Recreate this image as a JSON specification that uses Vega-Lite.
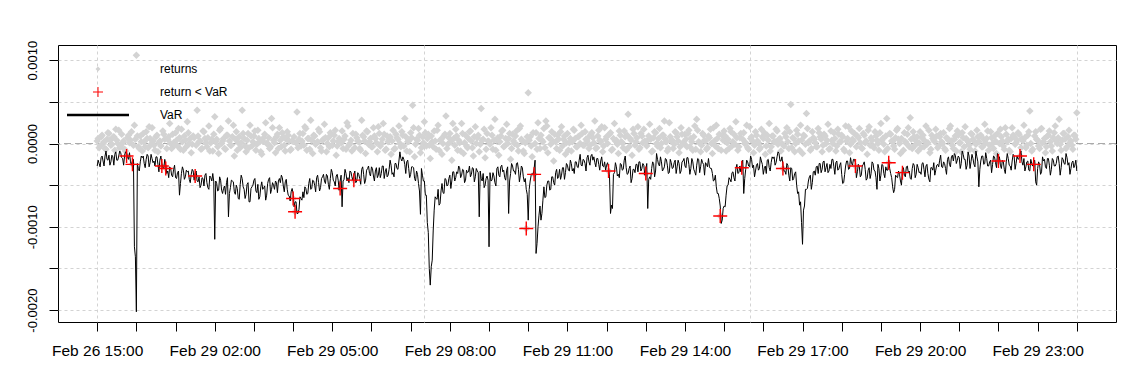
{
"$schema": "https://vega.github.io/schema/vega-lite/v6.json",
"width": 1058, "height": 277,
"autosize": "none",
"padding": {"left": 58, "top": 45, "right": 17, "bottom": 66},
"background": "white",
"config": {
  "view": {"stroke": "#000000", "strokeWidth": 1},
  "font": "Liberation Sans",
  "axis": {"domain": false, "grid": true, "gridColor": "#d3d3d3", "gridDash": [3,3], "gridWidth": 1, "tickColor": "#000000", "tickWidth": 1, "tickSize": 9, "labelColor": "#000000", "labelOverlap": false, "labelFlush": false},
  "legend": {"symbolSize": 100, "symbolStrokeWidth": 0, "symbolOpacity": 1}
},
"data": {"values": [
{"m":0,"r":0.00003,"v":-0.00027},{"m":1.5,"r":0.00006,"v":-0.00020},
{"m":3,"r":-0.00005,"v":-0.00024},{"m":4.5,"r":-0.00003,"v":-0.00028},
{"m":6,"r":0.00008,"v":-0.00017},{"m":7.5,"r":0.00010,"v":-0.00015},
{"m":9,"r":0.00000,"v":-0.00021},{"m":10.5,"r":0.00002,"v":-0.00027},
{"m":12,"r":-0.00006,"v":-0.00015},{"m":13.5,"r":-0.00007,"v":-0.00009},
{"m":15,"r":0.00005,"v":-0.00019},{"m":16.5,"r":0.00013,"v":-0.00020},
{"m":18,"r":0.00012,"v":-0.00014},{"m":19.5,"r":0.00004,"v":-0.00026},
{"m":21,"r":-0.00002,"v":-0.00022},{"m":22.5,"r":-0.00001,"v":-0.00014},
{"m":24,"r":0.00007,"v":-0.00016},{"m":25.5,"r":0.00008,"v":-0.00026},
{"m":27,"r":-0.00008,"v":-0.00013},{"m":28.5,"r":0.00017,"v":-0.00010},
{"m":30,"r":0.00004,"v":-0.00020},{"m":31.5,"r":0.00000,"v":-0.00020},
{"m":33,"r":0.00016,"v":-0.00015},{"m":34.5,"r":-0.00005,"v":-0.00009},
{"m":36,"r":-0.00003,"v":-0.00011},{"m":37.5,"r":0.00011,"v":-0.00017},
{"m":39,"r":0.00001,"v":-0.00018},{"m":40.5,"r":0.00003,"v":-0.00026},
{"m":42,"r":-0.00007,"v":-0.00014},{"m":43.5,"r":-0.00009,"v":-0.00010},
{"m":45,"r":-0.00015,"v":-0.00011},{"m":46.5,"r":0.00007,"v":-0.00016},
{"m":48,"r":0.00010,"v":-0.00019},{"m":49.5,"r":0.00001,"v":-0.00011},
{"m":51,"r":0.00004,"v":-0.00022},{"m":52.5,"r":0.00014,"v":-0.00026},
{"m":54,"r":-0.00025,"v":-0.00021},{"m":55.5,"r":-0.00002,"v":-0.00019},
{"m":57,"r":0.00022,"v":-0.00124},{"m":58.5,"r":0.00005,"v":-0.00136},
{"m":60,"r":0.00106,"v":-0.00202},{"m":61.5,"r":0.00009,"v":-0.00024},
{"m":63,"r":-0.00004,"v":-0.00030},{"m":64.5,"r":-0.00006,"v":-0.00033},
{"m":66,"r":0.00009,"v":-0.00022},{"m":67.5,"r":0.00002,"v":-0.00015},
{"m":69,"r":-0.00009,"v":-0.00017},{"m":70.5,"r":0.00012,"v":-0.00015},
{"m":72,"r":0.00002,"v":-0.00024},{"m":73.5,"r":-0.00004,"v":-0.00029},
{"m":75,"r":0.00014,"v":-0.00019},{"m":76.5,"r":0.00006,"v":-0.00013},
{"m":78,"r":-0.00005,"v":-0.00015},{"m":79.5,"r":0.00020,"v":-0.00028},
{"m":81,"r":0.00006,"v":-0.00023},{"m":82.5,"r":-0.00001,"v":-0.00013},
{"m":84,"r":0.00019,"v":-0.00018},{"m":85.5,"r":0.00003,"v":-0.00023},
{"m":87,"r":-0.00002,"v":-0.00021},{"m":88.5,"r":-0.00008,"v":-0.00027},
{"m":90,"r":0.00008,"v":-0.00016},{"m":91.5,"r":0.00010,"v":-0.00016},
{"m":93,"r":-0.00010,"v":-0.00025},{"m":94.5,"r":0.00001,"v":-0.00034},
{"m":96,"r":0.00003,"v":-0.00020},{"m":97.5,"r":-0.00003,"v":-0.00015},
{"m":99,"r":-0.00027,"v":-0.00024},{"m":100.5,"r":0.00015,"v":-0.00029},
{"m":102,"r":0.00011,"v":-0.00030},{"m":103.5,"r":0.00005,"v":-0.00019},
{"m":105,"r":-0.00030,"v":-0.00026},{"m":106.5,"r":-0.00006,"v":-0.00036},
{"m":108,"r":0.00005,"v":-0.00033},{"m":109.5,"r":0.00008,"v":-0.00041},
{"m":111,"r":0.00024,"v":-0.00028},{"m":112.5,"r":0.00000,"v":-0.00030},
{"m":114,"r":-0.00006,"v":-0.00038},{"m":115.5,"r":0.00011,"v":-0.00040},
{"m":117,"r":0.00001,"v":-0.00031},{"m":118.5,"r":-0.00002,"v":-0.00026},
{"m":120,"r":0.00013,"v":-0.00041},{"m":121.5,"r":0.00004,"v":-0.00042},
{"m":123,"r":-0.00003,"v":-0.00035},{"m":124.5,"r":0.00018,"v":-0.00033},
{"m":126,"r":0.00007,"v":-0.00062},{"m":127.5,"r":-0.00007,"v":-0.00048},
{"m":129,"r":0.00017,"v":-0.00036},{"m":130.5,"r":0.00002,"v":-0.00028},
{"m":132,"r":-0.00008,"v":-0.00032},{"m":133.5,"r":0.00009,"v":-0.00043},
{"m":135,"r":0.00004,"v":-0.00040},{"m":136.5,"r":-0.00004,"v":-0.00032},
{"m":138,"r":0.00026,"v":-0.00034},{"m":139.5,"r":0.00013,"v":-0.00033},
{"m":141,"r":0.00000,"v":-0.00043},{"m":142.5,"r":0.00006,"v":-0.00047},
{"m":144,"r":-0.00011,"v":-0.00037},{"m":145.5,"r":-0.00001,"v":-0.00031},
{"m":147,"r":0.00009,"v":-0.00033},{"m":148.5,"r":0.00007,"v":-0.00044},
{"m":150,"r":-0.00039,"v":-0.00036},{"m":151.5,"r":-0.00002,"v":-0.00033},
{"m":153,"r":0.00040,"v":-0.00045},{"m":154.5,"r":0.00009,"v":-0.00046},
{"m":156,"r":0.00002,"v":-0.00040},{"m":157.5,"r":0.00003,"v":-0.00053},
{"m":159,"r":-0.00007,"v":-0.00050},{"m":160.5,"r":-0.00006,"v":-0.00041},
{"m":162,"r":0.00015,"v":-0.00042},{"m":163.5,"r":0.00014,"v":-0.00051},
{"m":165,"r":0.00006,"v":-0.00038},{"m":166.5,"r":0.00001,"v":-0.00036},
{"m":168,"r":-0.00004,"v":-0.00047},{"m":169.5,"r":0.00007,"v":-0.00053},
{"m":171,"r":0.00021,"v":-0.00055},{"m":172.5,"r":-0.00009,"v":-0.00039},
{"m":174,"r":0.00001,"v":-0.00041},{"m":175.5,"r":0.00005,"v":-0.00045},
{"m":177,"r":-0.00009,"v":-0.00036},{"m":178.5,"r":0.00011,"v":-0.00046},
{"m":180,"r":0.00032,"v":-0.00115},{"m":181.5,"r":0.00002,"v":-0.00045},
{"m":183,"r":0.00005,"v":-0.00048},{"m":184.5,"r":-0.00004,"v":-0.00057},
{"m":186,"r":-0.00012,"v":-0.00056},{"m":187.5,"r":0.00016,"v":-0.00040},
{"m":189,"r":0.00018,"v":-0.00044},{"m":190.5,"r":0.00000,"v":-0.00056},
{"m":192,"r":0.00003,"v":-0.00060},{"m":193.5,"r":0.00006,"v":-0.00054},
{"m":195,"r":-0.00006,"v":-0.00051},{"m":196.5,"r":-0.00007,"v":-0.00061},
{"m":198,"r":0.00010,"v":-0.00047},{"m":199.5,"r":0.00010,"v":-0.00041},
{"m":201,"r":0.00027,"v":-0.00088},{"m":202.5,"r":0.00003,"v":-0.00060},
{"m":204,"r":-0.00002,"v":-0.00053},{"m":205.5,"r":-0.00002,"v":-0.00044},
{"m":207,"r":0.00008,"v":-0.00045},{"m":208.5,"r":0.00022,"v":-0.00046},
{"m":210,"r":-0.00015,"v":-0.00058},{"m":211.5,"r":0.00005,"v":-0.00061},
{"m":213,"r":0.00014,"v":-0.00050},{"m":214.5,"r":-0.00008,"v":-0.00054},
{"m":216,"r":0.00001,"v":-0.00066},{"m":217.5,"r":0.00008,"v":-0.00067},
{"m":219,"r":-0.00005,"v":-0.00049},{"m":220.5,"r":0.00001,"v":-0.00038},
{"m":222,"r":0.00040,"v":-0.00042},{"m":223.5,"r":0.00012,"v":-0.00052},
{"m":225,"r":0.00006,"v":-0.00055},{"m":226.5,"r":-0.00003,"v":-0.00066},
{"m":228,"r":-0.00010,"v":-0.00061},{"m":229.5,"r":0.00004,"v":-0.00049},
{"m":231,"r":0.00012,"v":-0.00047},{"m":232.5,"r":-0.00005,"v":-0.00070},
{"m":234,"r":0.00022,"v":-0.00070},{"m":235.5,"r":0.00009,"v":-0.00054},
{"m":237,"r":-0.00003,"v":-0.00052},{"m":238.5,"r":0.00002,"v":-0.00050},
{"m":240,"r":0.00009,"v":-0.00044},{"m":241.5,"r":0.00015,"v":-0.00042},
{"m":243,"r":-0.00008,"v":-0.00057},{"m":244.5,"r":-0.00001,"v":-0.00059},
{"m":246,"r":0.00016,"v":-0.00049},{"m":247.5,"r":0.00006,"v":-0.00067},
{"m":249,"r":0.00002,"v":-0.00064},{"m":250.5,"r":-0.00010,"v":-0.00052},
{"m":252,"r":-0.00013,"v":-0.00046},{"m":253.5,"r":0.00003,"v":-0.00055},
{"m":255,"r":0.00007,"v":-0.00053},{"m":256.5,"r":0.00011,"v":-0.00051},
{"m":258,"r":0.00025,"v":-0.00068},{"m":259.5,"r":0.00000,"v":-0.00062},
{"m":261,"r":0.00000,"v":-0.00048},{"m":262.5,"r":0.00007,"v":-0.00043},
{"m":264,"r":-0.00006,"v":-0.00041},{"m":265.5,"r":-0.00004,"v":-0.00060},
{"m":267,"r":0.00030,"v":-0.00055},{"m":268.5,"r":0.00019,"v":-0.00047},
{"m":270,"r":0.00004,"v":-0.00050},{"m":271.5,"r":0.00001,"v":-0.00055},
{"m":273,"r":-0.00011,"v":-0.00045},{"m":274.5,"r":0.00008,"v":-0.00047},
{"m":276,"r":0.00011,"v":-0.00059},{"m":277.5,"r":-0.00006,"v":-0.00045},
{"m":279,"r":0.00019,"v":-0.00042},{"m":280.5,"r":0.00004,"v":-0.00047},
{"m":282,"r":-0.00004,"v":-0.00038},{"m":283.5,"r":0.00013,"v":-0.00041},
{"m":285,"r":0.00008,"v":-0.00051},{"m":286.5,"r":-0.00002,"v":-0.00058},
{"m":288,"r":-0.00009,"v":-0.00046},{"m":289.5,"r":0.00005,"v":-0.00043},
{"m":291,"r":0.00014,"v":-0.00055},{"m":292.5,"r":0.00010,"v":-0.00062},
{"m":294,"r":0.00003,"v":-0.00063},{"m":295.5,"r":-0.00008,"v":-0.00069},
{"m":297,"r":-0.00007,"v":-0.00058},{"m":298.5,"r":0.00003,"v":-0.00054},
{"m":300,"r":-0.00066,"v":-0.00060},{"m":301.5,"r":0.00008,"v":-0.00076},
{"m":303,"r":-0.00082,"v":-0.00070},{"m":304.5,"r":0.00001,"v":-0.00070},
{"m":306,"r":0.00038,"v":-0.00084},{"m":307.5,"r":-0.00005,"v":-0.00084},
{"m":309,"r":0.00005,"v":-0.00079},{"m":310.5,"r":0.00012,"v":-0.00064},
{"m":312,"r":-0.00003,"v":-0.00066},{"m":313.5,"r":0.00003,"v":-0.00068},
{"m":315,"r":0.00012,"v":-0.00058},{"m":316.5,"r":-0.00002,"v":-0.00065},
{"m":318,"r":0.00020,"v":-0.00052},{"m":319.5,"r":0.00018,"v":-0.00054},
{"m":321,"r":-0.00008,"v":-0.00061},{"m":322.5,"r":0.00006,"v":-0.00060},
{"m":324,"r":0.00006,"v":-0.00048},{"m":325.5,"r":-0.00007,"v":-0.00042},
{"m":327,"r":0.00028,"v":-0.00055},{"m":328.5,"r":0.00004,"v":-0.00054},
{"m":330,"r":-0.00012,"v":-0.00044},{"m":331.5,"r":0.00010,"v":-0.00045},
{"m":333,"r":0.00009,"v":-0.00050},{"m":334.5,"r":-0.00001,"v":-0.00058},
{"m":336,"r":0.00001,"v":-0.00041},{"m":337.5,"r":0.00002,"v":-0.00038},
{"m":339,"r":0.00017,"v":-0.00047},{"m":340.5,"r":0.00014,"v":-0.00057},
{"m":342,"r":-0.00005,"v":-0.00053},{"m":343.5,"r":-0.00009,"v":-0.00042},
{"m":345,"r":0.00004,"v":-0.00040},{"m":346.5,"r":0.00005,"v":-0.00037},
{"m":348,"r":0.00023,"v":-0.00045},{"m":349.5,"r":0.00007,"v":-0.00048},
{"m":351,"r":-0.00010,"v":-0.00037},{"m":352.5,"r":0.00000,"v":-0.00039},
{"m":354,"r":0.00007,"v":-0.00049},{"m":355.5,"r":-0.00004,"v":-0.00055},
{"m":357,"r":0.00013,"v":-0.00042},{"m":358.5,"r":0.00011,"v":-0.00031},
{"m":360,"r":-0.00002,"v":-0.00035},{"m":361.5,"r":0.00003,"v":-0.00044},
{"m":363,"r":0.00010,"v":-0.00046},{"m":364.5,"r":0.00016,"v":-0.00051},
{"m":366,"r":-0.00014,"v":-0.00039},{"m":367.5,"r":-0.00003,"v":-0.00037},
{"m":369,"r":0.00002,"v":-0.00044},{"m":370.5,"r":0.00006,"v":-0.00056},
{"m":372,"r":-0.00054,"v":-0.00045},{"m":373.5,"r":0.00001,"v":-0.00038},
{"m":375,"r":0.00015,"v":-0.00076},{"m":376.5,"r":-0.00006,"v":-0.00045},
{"m":378,"r":0.00005,"v":-0.00043},{"m":379.5,"r":0.00009,"v":-0.00031},
{"m":381,"r":-0.00007,"v":-0.00036},{"m":382.5,"r":0.00025,"v":-0.00045},
{"m":384,"r":0.00021,"v":-0.00041},{"m":385.5,"r":-0.00002,"v":-0.00047},
{"m":387,"r":0.00000,"v":-0.00033},{"m":388.5,"r":0.00004,"v":-0.00034},
{"m":390,"r":-0.00009,"v":-0.00040},{"m":391.5,"r":0.00012,"v":-0.00044},
{"m":393,"r":-0.00044,"v":-0.00038},{"m":394.5,"r":-0.00005,"v":-0.00033},
{"m":396,"r":0.00011,"v":-0.00047},{"m":397.5,"r":0.00007,"v":-0.00045},
{"m":399,"r":0.00003,"v":-0.00035},{"m":400.5,"r":0.00002,"v":-0.00037},
{"m":402,"r":-0.00006,"v":-0.00042},{"m":403.5,"r":-0.00008,"v":-0.00049},
{"m":405,"r":0.00028,"v":-0.00031},{"m":406.5,"r":0.00010,"v":-0.00028},
{"m":408,"r":0.00008,"v":-0.00037},{"m":409.5,"r":0.00003,"v":-0.00048},
{"m":411,"r":-0.00012,"v":-0.00044},{"m":412.5,"r":0.00015,"v":-0.00032},
{"m":414,"r":0.00014,"v":-0.00030},{"m":415.5,"r":-0.00001,"v":-0.00027},
{"m":417,"r":0.00002,"v":-0.00036},{"m":418.5,"r":0.00006,"v":-0.00039},
{"m":420,"r":-0.00004,"v":-0.00028},{"m":421.5,"r":-0.00004,"v":-0.00030},
{"m":423,"r":0.00019,"v":-0.00039},{"m":424.5,"r":0.00009,"v":-0.00045},
{"m":426,"r":0.00006,"v":-0.00033},{"m":427.5,"r":0.00001,"v":-0.00029},
{"m":429,"r":-0.00010,"v":-0.00041},{"m":430.5,"r":0.00020,"v":-0.00038},
{"m":432,"r":0.00012,"v":-0.00029},{"m":433.5,"r":-0.00003,"v":-0.00041},
{"m":435,"r":0.00000,"v":-0.00036},{"m":436.5,"r":0.00005,"v":-0.00027},
{"m":438,"r":0.00024,"v":-0.00027},{"m":439.5,"r":0.00011,"v":-0.00042},
{"m":441,"r":-0.00008,"v":-0.00034},{"m":442.5,"r":-0.00007,"v":-0.00030},
{"m":444,"r":0.00009,"v":-0.00040},{"m":445.5,"r":0.00002,"v":-0.00038},
{"m":447,"r":0.00004,"v":-0.00031},{"m":448.5,"r":0.00008,"v":-0.00020},
{"m":450,"r":-0.00013,"v":-0.00026},{"m":451.5,"r":0.00003,"v":-0.00037},
{"m":453,"r":0.00016,"v":-0.00035},{"m":454.5,"r":-0.00007,"v":-0.00040},
{"m":456,"r":-0.00006,"v":-0.00024},{"m":457.5,"r":0.00011,"v":-0.00024},
{"m":459,"r":0.00007,"v":-0.00030},{"m":460.5,"r":0.00005,"v":-0.00031},
{"m":462,"r":0.00021,"v":-0.00021},{"m":463.5,"r":0.00000,"v":-0.00010},
{"m":465,"r":-0.00004,"v":-0.00018},{"m":466.5,"r":0.00014,"v":-0.00021},
{"m":468,"r":0.00010,"v":-0.00016},{"m":469.5,"r":-0.00003,"v":-0.00019},
{"m":471,"r":0.00030,"v":-0.00025},{"m":472.5,"r":0.00008,"v":-0.00036},
{"m":474,"r":-0.00009,"v":-0.00022},{"m":475.5,"r":0.00002,"v":-0.00020},
{"m":477,"r":0.00003,"v":-0.00030},{"m":478.5,"r":-0.00010,"v":-0.00041},
{"m":480,"r":0.00013,"v":-0.00037},{"m":481.5,"r":0.00007,"v":-0.00028},
{"m":483,"r":0.00046,"v":-0.00028},{"m":484.5,"r":0.00019,"v":-0.00029},
{"m":486,"r":-0.00016,"v":-0.00042},{"m":487.5,"r":-0.00001,"v":-0.00045},
{"m":489,"r":0.00005,"v":-0.00033},{"m":490.5,"r":0.00004,"v":-0.00037},
{"m":492,"r":0.00018,"v":-0.00048},{"m":493.5,"r":0.00010,"v":-0.00057},
{"m":495,"r":-0.00011,"v":-0.00085},{"m":496.5,"r":-0.00005,"v":-0.00030},
{"m":498,"r":0.00008,"v":-0.00038},{"m":499.5,"r":0.00001,"v":-0.00045},
{"m":501,"r":0.00026,"v":-0.00045},{"m":502.5,"r":0.00013,"v":-0.00062},
{"m":504,"r":-0.00003,"v":-0.00062},{"m":505.5,"r":0.00006,"v":-0.00095},
{"m":507,"r":0.00011,"v":-0.00107},{"m":508.5,"r":-0.00002,"v":-0.00150},
{"m":510,"r":-0.00018,"v":-0.00170},{"m":511.5,"r":0.00009,"v":-0.00148},
{"m":513,"r":0.00002,"v":-0.00140},{"m":514.5,"r":-0.00004,"v":-0.00105},
{"m":516,"r":0.00015,"v":-0.00080},{"m":517.5,"r":0.00003,"v":-0.00064},
{"m":519,"r":-0.00007,"v":-0.00066},{"m":520.5,"r":0.00016,"v":-0.00067},
{"m":522,"r":0.00022,"v":-0.00055},{"m":523.5,"r":-0.00008,"v":-0.00074},
{"m":525,"r":0.00004,"v":-0.00072},{"m":526.5,"r":0.00005,"v":-0.00057},
{"m":528,"r":-0.00013,"v":-0.00048},{"m":529.5,"r":0.00000,"v":-0.00059},
{"m":531,"r":0.00009,"v":-0.00060},{"m":532.5,"r":0.00011,"v":-0.00042},
{"m":534,"r":0.00033,"v":-0.00043},{"m":535.5,"r":-0.00006,"v":-0.00051},
{"m":537,"r":-0.00001,"v":-0.00050},{"m":538.5,"r":0.00007,"v":-0.00042},
{"m":540,"r":0.00012,"v":-0.00038},{"m":541.5,"r":0.00002,"v":-0.00054},
{"m":543,"r":-0.00020,"v":-0.00045},{"m":544.5,"r":0.00024,"v":-0.00034},
{"m":546,"r":0.00006,"v":-0.00034},{"m":547.5,"r":-0.00002,"v":-0.00045},
{"m":549,"r":0.00017,"v":-0.00041},{"m":550.5,"r":0.00009,"v":-0.00034},
{"m":552,"r":-0.00008,"v":-0.00036},{"m":553.5,"r":0.00004,"v":-0.00027},
{"m":555,"r":0.00001,"v":-0.00029},{"m":556.5,"r":-0.00009,"v":-0.00041},
{"m":558,"r":0.00024,"v":-0.00038},{"m":559.5,"r":0.00012,"v":-0.00031},
{"m":561,"r":-0.00012,"v":-0.00032},{"m":562.5,"r":0.00001,"v":-0.00047},
{"m":564,"r":0.00010,"v":-0.00044},{"m":565.5,"r":-0.00003,"v":-0.00032},
{"m":567,"r":-0.00005,"v":-0.00035},{"m":568.5,"r":0.00006,"v":-0.00034},
{"m":570,"r":0.00014,"v":-0.00027},{"m":571.5,"r":0.00015,"v":-0.00040},
{"m":573,"r":0.00003,"v":-0.00037},{"m":574.5,"r":-0.00005,"v":-0.00029},
{"m":576,"r":-0.00015,"v":-0.00030},{"m":577.5,"r":0.00008,"v":-0.00046},
{"m":579,"r":0.00020,"v":-0.00040},{"m":580.5,"r":0.00000,"v":-0.00030},
{"m":582,"r":0.00007,"v":-0.00033},{"m":583.5,"r":0.00010,"v":-0.00035},
{"m":585,"r":-0.00010,"v":-0.00088},{"m":586.5,"r":-0.00001,"v":-0.00033},
{"m":588,"r":0.00042,"v":-0.00042},{"m":589.5,"r":0.00004,"v":-0.00045},
{"m":591,"r":0.00005,"v":-0.00036},{"m":592.5,"r":0.00017,"v":-0.00053},
{"m":594,"r":-0.00017,"v":-0.00050},{"m":595.5,"r":-0.00007,"v":-0.00042},
{"m":597,"r":0.00012,"v":-0.00039},{"m":598.5,"r":0.00003,"v":-0.00044},
{"m":600,"r":0.00002,"v":-0.00124},{"m":601.5,"r":-0.00001,"v":-0.00035},
{"m":603,"r":0.00019,"v":-0.00045},{"m":604.5,"r":0.00010,"v":-0.00044},
{"m":606,"r":-0.00007,"v":-0.00035},{"m":607.5,"r":0.00004,"v":-0.00039},
{"m":609,"r":0.00029,"v":-0.00047},{"m":610.5,"r":-0.00008,"v":-0.00051},
{"m":612,"r":0.00004,"v":-0.00030},{"m":613.5,"r":0.00007,"v":-0.00028},
{"m":615,"r":-0.00014,"v":-0.00038},{"m":616.5,"r":0.00002,"v":-0.00040},
{"m":618,"r":0.00009,"v":-0.00028},{"m":619.5,"r":0.00015,"v":-0.00026},
{"m":621,"r":0.00016,"v":-0.00034},{"m":622.5,"r":-0.00004,"v":-0.00032},
{"m":624,"r":-0.00003,"v":-0.00041},{"m":625.5,"r":0.00006,"v":-0.00044},
{"m":627,"r":0.00023,"v":-0.00032},{"m":628.5,"r":0.00000,"v":-0.00028},
{"m":630,"r":0.00006,"v":-0.00084},{"m":631.5,"r":0.00012,"v":-0.00045},
{"m":633,"r":-0.00019,"v":-0.00036},{"m":634.5,"r":-0.00006,"v":-0.00024},
{"m":636,"r":0.00011,"v":-0.00027},{"m":637.5,"r":0.00003,"v":-0.00033},
{"m":639,"r":0.00000,"v":-0.00033},{"m":640.5,"r":0.00009,"v":-0.00037},
{"m":642,"r":0.00015,"v":-0.00024},{"m":643.5,"r":-0.00002,"v":-0.00023},
{"m":645,"r":-0.00009,"v":-0.00031},{"m":646.5,"r":0.00018,"v":-0.00046},
{"m":648,"r":0.00021,"v":-0.00038},{"m":649.5,"r":0.00005,"v":-0.00027},
{"m":651,"r":0.00003,"v":-0.00029},{"m":652.5,"r":-0.00009,"v":-0.00040},
{"m":654,"r":-0.00012,"v":-0.00046},{"m":655.5,"r":0.00001,"v":-0.00042},
{"m":657,"r":-0.00102,"v":-0.00055},{"m":658.5,"r":0.00008,"v":-0.00061},
{"m":660,"r":0.00061,"v":-0.00092},{"m":661.5,"r":0.00004,"v":-0.00055},
{"m":663,"r":0.00008,"v":-0.00045},{"m":664.5,"r":-0.00003,"v":-0.00038},
{"m":666,"r":-0.00016,"v":-0.00036},{"m":667.5,"r":0.00013,"v":-0.00038},
{"m":669,"r":-0.00037,"v":-0.00030},{"m":670.5,"r":0.00000,"v":-0.00020},
{"m":672,"r":0.00013,"v":-0.00132},{"m":673.5,"r":-0.00007,"v":-0.00120},
{"m":675,"r":0.00025,"v":-0.00100},{"m":676.5,"r":0.00006,"v":-0.00086},
{"m":678,"r":-0.00006,"v":-0.00075},{"m":679.5,"r":0.00010,"v":-0.00092},
{"m":681,"r":0.00004,"v":-0.00084},{"m":682.5,"r":0.00002,"v":-0.00068},
{"m":684,"r":0.00018,"v":-0.00052},{"m":685.5,"r":-0.00005,"v":-0.00065},
{"m":687,"r":0.00027,"v":-0.00064},{"m":688.5,"r":0.00021,"v":-0.00050},
{"m":690,"r":-0.00011,"v":-0.00045},{"m":691.5,"r":0.00007,"v":-0.00045},
{"m":693,"r":0.00007,"v":-0.00056},{"m":694.5,"r":-0.00001,"v":-0.00055},
{"m":696,"r":0.00014,"v":-0.00040},{"m":697.5,"r":0.00003,"v":-0.00040},
{"m":699,"r":-0.00021,"v":-0.00047},{"m":700.5,"r":0.00011,"v":-0.00050},
{"m":702,"r":0.00002,"v":-0.00035},{"m":703.5,"r":-0.00006,"v":-0.00031},
{"m":705,"r":0.00010,"v":-0.00042},{"m":706.5,"r":0.00005,"v":-0.00040},
{"m":708,"r":-0.00008,"v":-0.00031},{"m":709.5,"r":0.00014,"v":-0.00043},
{"m":711,"r":0.00020,"v":-0.00038},{"m":712.5,"r":-0.00003,"v":-0.00029},
{"m":714,"r":0.00005,"v":-0.00029},{"m":715.5,"r":0.00009,"v":-0.00043},
{"m":717,"r":-0.00013,"v":-0.00035},{"m":718.5,"r":0.00001,"v":-0.00024},
{"m":720,"r":0.00012,"v":-0.00026},{"m":721.5,"r":-0.00008,"v":-0.00032},
{"m":723,"r":0.00001,"v":-0.00033},{"m":724.5,"r":0.00006,"v":-0.00020},
{"m":726,"r":-0.00009,"v":-0.00024},{"m":727.5,"r":0.00002,"v":-0.00033},
{"m":729,"r":0.00017,"v":-0.00030},{"m":730.5,"r":0.00016,"v":-0.00036},
{"m":732,"r":0.00006,"v":-0.00022},{"m":733.5,"r":-0.00004,"v":-0.00022},
{"m":735,"r":-0.00004,"v":-0.00028},{"m":736.5,"r":0.00008,"v":-0.00029},
{"m":738,"r":0.00009,"v":-0.00020},{"m":739.5,"r":0.00000,"v":-0.00013},
{"m":741,"r":0.00022,"v":-0.00026},{"m":742.5,"r":0.00012,"v":-0.00027},
{"m":744,"r":-0.00002,"v":-0.00019},{"m":745.5,"r":-0.00002,"v":-0.00020},
{"m":747,"r":0.00014,"v":-0.00024},{"m":748.5,"r":0.00005,"v":-0.00033},
{"m":750,"r":0.00003,"v":-0.00017},{"m":751.5,"r":0.00007,"v":-0.00014},
{"m":753,"r":-0.00006,"v":-0.00022},{"m":754.5,"r":-0.00002,"v":-0.00026},
{"m":756,"r":0.00011,"v":-0.00015},{"m":757.5,"r":0.00013,"v":-0.00013},
{"m":759,"r":0.00007,"v":-0.00020},{"m":760.5,"r":0.00001,"v":-0.00016},
{"m":762,"r":0.00027,"v":-0.00023},{"m":763.5,"r":-0.00006,"v":-0.00028},
{"m":765,"r":-0.00005,"v":-0.00018},{"m":766.5,"r":0.00009,"v":-0.00018},
{"m":768,"r":0.00016,"v":-0.00025},{"m":769.5,"r":0.00004,"v":-0.00032},
{"m":771,"r":0.00002,"v":-0.00021},{"m":772.5,"r":0.00020,"v":-0.00016},
{"m":774,"r":-0.00010,"v":-0.00027},{"m":775.5,"r":-0.00003,"v":-0.00028},
{"m":777,"r":0.00019,"v":-0.00022},{"m":778.5,"r":0.00005,"v":-0.00032},
{"m":780,"r":0.00008,"v":-0.00026},{"m":781.5,"r":0.00000,"v":-0.00023},
{"m":783,"r":-0.00033,"v":-0.00029},{"m":784.5,"r":0.00011,"v":-0.00040},
{"m":786,"r":0.00013,"v":-0.00084},{"m":787.5,"r":-0.00008,"v":-0.00074},
{"m":789,"r":-0.00007,"v":-0.00078},{"m":790.5,"r":0.00006,"v":-0.00037},
{"m":792,"r":0.00024,"v":-0.00035},{"m":793.5,"r":0.00003,"v":-0.00023},
{"m":795,"r":0.00004,"v":-0.00028},{"m":796.5,"r":-0.00001,"v":-0.00039},
{"m":798,"r":-0.00012,"v":-0.00037},{"m":799.5,"r":0.00015,"v":-0.00041},
{"m":801,"r":0.00010,"v":-0.00024},{"m":802.5,"r":0.00002,"v":-0.00025},
{"m":804,"r":0.00001,"v":-0.00032},{"m":805.5,"r":-0.00005,"v":-0.00031},
{"m":807,"r":0.00015,"v":-0.00020},{"m":808.5,"r":0.00008,"v":-0.00015},
{"m":810,"r":-0.00008,"v":-0.00029},{"m":811.5,"r":0.00010,"v":-0.00037},
{"m":813,"r":0.00035,"v":-0.00036},{"m":814.5,"r":-0.00004,"v":-0.00030},
{"m":816,"r":0.00006,"v":-0.00027},{"m":817.5,"r":0.00004,"v":-0.00047},
{"m":819,"r":-0.00014,"v":-0.00042},{"m":820.5,"r":0.00017,"v":-0.00031},
{"m":822,"r":0.00012,"v":-0.00031},{"m":823.5,"r":-0.00002,"v":-0.00035},
{"m":825,"r":0.00002,"v":-0.00025},{"m":826.5,"r":0.00007,"v":-0.00025},
{"m":828,"r":0.00020,"v":-0.00034},{"m":829.5,"r":-0.00007,"v":-0.00022},
{"m":831,"r":-0.00005,"v":-0.00022},{"m":832.5,"r":0.00012,"v":-0.00033},
{"m":834,"r":0.00009,"v":-0.00030},{"m":835.5,"r":0.00001,"v":-0.00024},
{"m":837,"r":0.00017,"v":-0.00026},{"m":838.5,"r":0.00003,"v":-0.00038},
{"m":840,"r":-0.00036,"v":-0.00032},{"m":841.5,"r":-0.00003,"v":-0.00024},
{"m":843,"r":0.00004,"v":-0.00078},{"m":844.5,"r":0.00009,"v":-0.00043},
{"m":846,"r":0.00023,"v":-0.00040},{"m":847.5,"r":0.00005,"v":-0.00043},
{"m":849,"r":-0.00010,"v":-0.00030},{"m":850.5,"r":-0.00009,"v":-0.00022},
{"m":852,"r":0.00007,"v":-0.00024},{"m":853.5,"r":0.00014,"v":-0.00040},
{"m":855,"r":0.00013,"v":-0.00033},{"m":856.5,"r":0.00000,"v":-0.00012},
{"m":858,"r":-0.00003,"v":-0.00019},{"m":859.5,"r":0.00006,"v":-0.00025},
{"m":861,"r":0.00018,"v":-0.00027},{"m":862.5,"r":-0.00005,"v":-0.00016},
{"m":864,"r":0.00000,"v":-0.00022},{"m":865.5,"r":0.00010,"v":-0.00033},
{"m":867,"r":0.00010,"v":-0.00031},{"m":868.5,"r":0.00027,"v":-0.00028},
{"m":870,"r":0.00005,"v":-0.00018},{"m":871.5,"r":0.00002,"v":-0.00019},
{"m":873,"r":-0.00009,"v":-0.00026},{"m":874.5,"r":-0.00006,"v":-0.00036},
{"m":876,"r":0.00025,"v":-0.00035},{"m":877.5,"r":0.00008,"v":-0.00019},
{"m":879,"r":0.00003,"v":-0.00023},{"m":880.5,"r":0.00004,"v":-0.00030},
{"m":882,"r":-0.00006,"v":-0.00029},{"m":883.5,"r":-0.00001,"v":-0.00023},
{"m":885,"r":0.00014,"v":-0.00020},{"m":886.5,"r":0.00013,"v":-0.00036},
{"m":888,"r":0.00008,"v":-0.00028},{"m":889.5,"r":0.00003,"v":-0.00020},
{"m":891,"r":-0.00011,"v":-0.00024},{"m":892.5,"r":-0.00004,"v":-0.00036},
{"m":894,"r":0.00019,"v":-0.00033},{"m":895.5,"r":0.00011,"v":-0.00022},
{"m":897,"r":0.00001,"v":-0.00021},{"m":898.5,"r":0.00000,"v":-0.00018},
{"m":900,"r":0.00011,"v":-0.00027},{"m":901.5,"r":0.00005,"v":-0.00029},
{"m":903,"r":-0.00004,"v":-0.00017},{"m":904.5,"r":0.00012,"v":-0.00017},
{"m":906,"r":0.00016,"v":-0.00025},{"m":907.5,"r":-0.00004,"v":-0.00037},
{"m":909,"r":0.00006,"v":-0.00030},{"m":910.5,"r":0.00002,"v":-0.00018},
{"m":912,"r":-0.00008,"v":-0.00022},{"m":913.5,"r":0.00008,"v":-0.00031},
{"m":915,"r":0.00021,"v":-0.00034},{"m":916.5,"r":-0.00007,"v":-0.00038},
{"m":918,"r":0.00029,"v":-0.00026},{"m":919.5,"r":0.00016,"v":-0.00018},
{"m":921,"r":0.00002,"v":-0.00019},{"m":922.5,"r":0.00001,"v":-0.00035},
{"m":924,"r":-0.00010,"v":-0.00028},{"m":925.5,"r":-0.00002,"v":-0.00019},
{"m":927,"r":0.00012,"v":-0.00023},{"m":928.5,"r":0.00010,"v":-0.00025},
{"m":930,"r":0.00004,"v":-0.00038},{"m":931.5,"r":0.00003,"v":-0.00023},
{"m":933,"r":-0.00007,"v":-0.00025},{"m":934.5,"r":-0.00005,"v":-0.00028},
{"m":936,"r":0.00009,"v":-0.00018},{"m":937.5,"r":0.00007,"v":-0.00028},
{"m":939,"r":0.00017,"v":-0.00030},{"m":940.5,"r":0.00000,"v":-0.00030},
{"m":942,"r":-0.00012,"v":-0.00036},{"m":943.5,"r":0.00019,"v":-0.00045},
{"m":945,"r":0.00003,"v":-0.00044},{"m":946.5,"r":-0.00003,"v":-0.00038},
{"m":948,"r":0.00022,"v":-0.00052},{"m":949.5,"r":0.00006,"v":-0.00060},
{"m":951,"r":-0.00006,"v":-0.00060},{"m":952.5,"r":0.00011,"v":-0.00066},
{"m":954,"r":-0.00087,"v":-0.00075},{"m":955.5,"r":-0.00008,"v":-0.00096},
{"m":957,"r":0.00010,"v":-0.00092},{"m":958.5,"r":0.00004,"v":-0.00078},
{"m":960,"r":0.00015,"v":-0.00075},{"m":961.5,"r":0.00009,"v":-0.00076},
{"m":963,"r":-0.00009,"v":-0.00062},{"m":964.5,"r":0.00001,"v":-0.00051},
{"m":966,"r":0.00005,"v":-0.00050},{"m":967.5,"r":-0.00006,"v":-0.00041},
{"m":969,"r":0.00018,"v":-0.00043},{"m":970.5,"r":0.00014,"v":-0.00046},
{"m":972,"r":-0.00003,"v":-0.00035},{"m":973.5,"r":0.00002,"v":-0.00034},
{"m":975,"r":0.00011,"v":-0.00041},{"m":976.5,"r":-0.00001,"v":-0.00045},
{"m":978,"r":0.00026,"v":-0.00030},{"m":979.5,"r":0.00007,"v":-0.00025},
{"m":981,"r":-0.00008,"v":-0.00036},{"m":982.5,"r":-0.00004,"v":-0.00035},
{"m":984,"r":0.00007,"v":-0.00027},{"m":985.5,"r":0.00012,"v":-0.00034},
{"m":987,"r":-0.00029,"v":-0.00025},{"m":988.5,"r":0.00005,"v":-0.00020},
{"m":990,"r":0.00013,"v":-0.00060},{"m":991.5,"r":0.00000,"v":-0.00042},
{"m":993,"r":0.00001,"v":-0.00031},{"m":994.5,"r":0.00022,"v":-0.00020},
{"m":996,"r":-0.00005,"v":-0.00022},{"m":997.5,"r":-0.00007,"v":-0.00027},
{"m":999,"r":0.00020,"v":-0.00028},{"m":1000.5,"r":0.00006,"v":-0.00015},
{"m":1002,"r":0.00008,"v":-0.00019},{"m":1003.5,"r":0.00003,"v":-0.00029},
{"m":1005,"r":-0.00011,"v":-0.00026},{"m":1006.5,"r":-0.00002,"v":-0.00040},
{"m":1008,"r":0.00014,"v":-0.00033},{"m":1009.5,"r":0.00010,"v":-0.00026},
{"m":1011,"r":0.00003,"v":-0.00024},{"m":1012.5,"r":0.00001,"v":-0.00032},
{"m":1014,"r":-0.00007,"v":-0.00030},{"m":1015.5,"r":-0.00005,"v":-0.00016},
{"m":1017,"r":0.00017,"v":-0.00021},{"m":1018.5,"r":0.00008,"v":-0.00025},
{"m":1020,"r":0.00006,"v":-0.00037},{"m":1021.5,"r":0.00013,"v":-0.00030},
{"m":1023,"r":-0.00013,"v":-0.00027},{"m":1024.5,"r":-0.00003,"v":-0.00036},
{"m":1026,"r":0.00010,"v":-0.00020},{"m":1027.5,"r":0.00004,"v":-0.00019},
{"m":1029,"r":0.00024,"v":-0.00029},{"m":1030.5,"r":-0.00009,"v":-0.00033},
{"m":1032,"r":-0.00004,"v":-0.00023},{"m":1033.5,"r":0.00009,"v":-0.00016},
{"m":1035,"r":0.00009,"v":-0.00018},{"m":1036.5,"r":0.00002,"v":-0.00016},
{"m":1038,"r":0.00002,"v":-0.00026},{"m":1039.5,"r":0.00017,"v":-0.00023},
{"m":1041,"r":0.00015,"v":-0.00016},{"m":1042.5,"r":-0.00001,"v":-0.00010},
{"m":1044,"r":0.00005,"v":-0.00012},{"m":1045.5,"r":0.00006,"v":-0.00021},
{"m":1047,"r":-0.00009,"v":-0.00021},{"m":1048.5,"r":0.00000,"v":-0.00016},
{"m":1050,"r":-0.00030,"v":-0.00026},{"m":1051.5,"r":-0.00003,"v":-0.00033},
{"m":1053,"r":0.00012,"v":-0.00033},{"m":1054.5,"r":0.00008,"v":-0.00037},
{"m":1056,"r":0.00019,"v":-0.00024},{"m":1057.5,"r":0.00002,"v":-0.00026},
{"m":1059,"r":-0.00006,"v":-0.00038},{"m":1060.5,"r":0.00014,"v":-0.00045},
{"m":1062,"r":0.00047,"v":-0.00029},{"m":1063.5,"r":-0.00005,"v":-0.00030},
{"m":1065,"r":0.00007,"v":-0.00044},{"m":1066.5,"r":0.00006,"v":-0.00042},
{"m":1068,"r":-0.00010,"v":-0.00036},{"m":1069.5,"r":0.00000,"v":-0.00034},
{"m":1071,"r":0.00016,"v":-0.00050},{"m":1072.5,"r":0.00011,"v":-0.00060},
{"m":1074,"r":0.00003,"v":-0.00058},{"m":1075.5,"r":-0.00008,"v":-0.00074},
{"m":1077,"r":0.00022,"v":-0.00070},{"m":1078.5,"r":0.00004,"v":-0.00095},
{"m":1080,"r":-0.00012,"v":-0.00121},{"m":1081.5,"r":0.00010,"v":-0.00080},
{"m":1083,"r":0.00009,"v":-0.00075},{"m":1084.5,"r":-0.00001,"v":-0.00055},
{"m":1086,"r":0.00036,"v":-0.00055},{"m":1087.5,"r":0.00018,"v":-0.00054},
{"m":1089,"r":0.00001,"v":-0.00045},{"m":1090.5,"r":0.00003,"v":-0.00040},
{"m":1092,"r":-0.00008,"v":-0.00038},{"m":1093.5,"r":-0.00006,"v":-0.00055},
{"m":1095,"r":0.00014,"v":-0.00047},{"m":1096.5,"r":0.00007,"v":-0.00034},
{"m":1098,"r":0.00005,"v":-0.00033},{"m":1099.5,"r":0.00001,"v":-0.00038},
{"m":1101,"r":-0.00004,"v":-0.00028},{"m":1102.5,"r":-0.00004,"v":-0.00027},
{"m":1104,"r":0.00018,"v":-0.00036},{"m":1105.5,"r":0.00013,"v":-0.00024},
{"m":1107,"r":0.00008,"v":-0.00024},{"m":1108.5,"r":0.00005,"v":-0.00035},
{"m":1110,"r":-0.00010,"v":-0.00031},{"m":1111.5,"r":-0.00002,"v":-0.00022},
{"m":1113,"r":0.00011,"v":-0.00021},{"m":1114.5,"r":0.00009,"v":-0.00034},
{"m":1116,"r":0.00000,"v":-0.00029},{"m":1117.5,"r":0.00004,"v":-0.00024},
{"m":1119,"r":0.00023,"v":-0.00035},{"m":1120.5,"r":-0.00007,"v":-0.00033},
{"m":1122,"r":-0.00006,"v":-0.00025},{"m":1123.5,"r":0.00015,"v":-0.00030},
{"m":1125,"r":0.00004,"v":-0.00019},{"m":1126.5,"r":0.00000,"v":-0.00019},
{"m":1128,"r":0.00013,"v":-0.00028},{"m":1129.5,"r":0.00006,"v":-0.00037},
{"m":1131,"r":-0.00009,"v":-0.00023},{"m":1132.5,"r":-0.00003,"v":-0.00021},
{"m":1134,"r":0.00017,"v":-0.00032},{"m":1135.5,"r":0.00011,"v":-0.00031},
{"m":1137,"r":0.00002,"v":-0.00026},{"m":1138.5,"r":0.00002,"v":-0.00023},
{"m":1140,"r":0.00010,"v":-0.00037},{"m":1141.5,"r":0.00008,"v":-0.00048},
{"m":1143,"r":-0.00007,"v":-0.00047},{"m":1144.5,"r":-0.00009,"v":-0.00037},
{"m":1146,"r":0.00021,"v":-0.00027},{"m":1147.5,"r":0.00003,"v":-0.00021},
{"m":1149,"r":0.00006,"v":-0.00021},{"m":1150.5,"r":0.00020,"v":-0.00031},
{"m":1152,"r":-0.00011,"v":-0.00030},{"m":1153.5,"r":-0.00001,"v":-0.00017},
{"m":1155,"r":0.00015,"v":-0.00024},{"m":1156.5,"r":0.00005,"v":-0.00026},
{"m":1158,"r":0.00003,"v":-0.00019},{"m":1159.5,"r":0.00012,"v":-0.00019},
{"m":1161,"r":-0.00027,"v":-0.00023},{"m":1162.5,"r":-0.00004,"v":-0.00041},
{"m":1164,"r":0.00009,"v":-0.00034},{"m":1165.5,"r":0.00007,"v":-0.00025},
{"m":1167,"r":0.00018,"v":-0.00028},{"m":1168.5,"r":0.00001,"v":-0.00040},
{"m":1170,"r":-0.00005,"v":-0.00038},{"m":1171.5,"r":-0.00006,"v":-0.00027},
{"m":1173,"r":0.00012,"v":-0.00025},{"m":1174.5,"r":0.00010,"v":-0.00022},
{"m":1176,"r":0.00001,"v":-0.00031},{"m":1177.5,"r":0.00003,"v":-0.00044},
{"m":1179,"r":-0.00013,"v":-0.00042},{"m":1180.5,"r":0.00016,"v":-0.00032},
{"m":1182,"r":0.00020,"v":-0.00029},{"m":1183.5,"r":-0.00002,"v":-0.00042},
{"m":1185,"r":0.00007,"v":-0.00036},{"m":1186.5,"r":0.00004,"v":-0.00022},
{"m":1188,"r":-0.00003,"v":-0.00024},{"m":1189.5,"r":-0.00005,"v":-0.00032},
{"m":1191,"r":0.00014,"v":-0.00033},{"m":1192.5,"r":0.00009,"v":-0.00041},
{"m":1194,"r":0.00004,"v":-0.00055},{"m":1195.5,"r":0.00000,"v":-0.00025},
{"m":1197,"r":-0.00008,"v":-0.00030},{"m":1198.5,"r":0.00013,"v":-0.00045},
{"m":1200,"r":0.00024,"v":-0.00038},{"m":1201.5,"r":0.00004,"v":-0.00025},
{"m":1203,"r":0.00006,"v":-0.00026},{"m":1204.5,"r":-0.00001,"v":-0.00036},
{"m":1206,"r":-0.00010,"v":-0.00041},{"m":1207.5,"r":0.00009,"v":-0.00028},
{"m":1209,"r":0.00030,"v":-0.00032},{"m":1210.5,"r":-0.00006,"v":-0.00032},
{"m":1212,"r":-0.00023,"v":-0.00020},{"m":1213.5,"r":0.00012,"v":-0.00030},
{"m":1215,"r":0.00011,"v":-0.00036},{"m":1216.5,"r":0.00003,"v":-0.00041},
{"m":1218,"r":0.00002,"v":-0.00052},{"m":1219.5,"r":-0.00003,"v":-0.00059},
{"m":1221,"r":-0.00007,"v":-0.00055},{"m":1222.5,"r":0.00007,"v":-0.00038},
{"m":1224,"r":0.00016,"v":-0.00040},{"m":1225.5,"r":0.00018,"v":-0.00041},
{"m":1227,"r":0.00005,"v":-0.00033},{"m":1228.5,"r":0.00000,"v":-0.00037},
{"m":1230,"r":-0.00012,"v":-0.00045},{"m":1231.5,"r":0.00006,"v":-0.00050},
{"m":1233,"r":-0.00035,"v":-0.00031},{"m":1234.5,"r":-0.00008,"v":-0.00029},
{"m":1236,"r":0.00013,"v":-0.00038},{"m":1237.5,"r":0.00002,"v":-0.00040},
{"m":1239,"r":0.00000,"v":-0.00028},{"m":1240.5,"r":0.00011,"v":-0.00027},
{"m":1242,"r":0.00019,"v":-0.00035},{"m":1243.5,"r":-0.00004,"v":-0.00033},
{"m":1245,"r":0.00031,"v":-0.00042},{"m":1246.5,"r":0.00005,"v":-0.00043},
{"m":1248,"r":-0.00006,"v":-0.00030},{"m":1249.5,"r":0.00014,"v":-0.00024},
{"m":1251,"r":0.00008,"v":-0.00026},{"m":1252.5,"r":-0.00002,"v":-0.00041},
{"m":1254,"r":0.00003,"v":-0.00037},{"m":1255.5,"r":0.00008,"v":-0.00025},
{"m":1257,"r":-0.00009,"v":-0.00029},{"m":1258.5,"r":0.00001,"v":-0.00035},
{"m":1260,"r":0.00014,"v":-0.00034},{"m":1261.5,"r":-0.00005,"v":-0.00037},
{"m":1263,"r":0.00007,"v":-0.00024},{"m":1264.5,"r":0.00010,"v":-0.00023},
{"m":1266,"r":-0.00004,"v":-0.00031},{"m":1267.5,"r":0.00003,"v":-0.00040},
{"m":1269,"r":0.00021,"v":-0.00027},{"m":1270.5,"r":-0.00001,"v":-0.00025},
{"m":1272,"r":0.00001,"v":-0.00036},{"m":1273.5,"r":0.00016,"v":-0.00043},
{"m":1275,"r":-0.00011,"v":-0.00046},{"m":1276.5,"r":-0.00007,"v":-0.00029},
{"m":1278,"r":0.00010,"v":-0.00029},{"m":1279.5,"r":0.00006,"v":-0.00032},
{"m":1281,"r":0.00004,"v":-0.00023},{"m":1282.5,"r":0.00002,"v":-0.00038},
{"m":1284,"r":0.00017,"v":-0.00032},{"m":1285.5,"r":0.00009,"v":-0.00026},
{"m":1287,"r":-0.00005,"v":-0.00025},{"m":1288.5,"r":-0.00003,"v":-0.00028},
{"m":1290,"r":0.00008,"v":-0.00020},{"m":1291.5,"r":0.00012,"v":-0.00014},
{"m":1293,"r":0.00002,"v":-0.00028},{"m":1294.5,"r":0.00000,"v":-0.00029},
{"m":1296,"r":0.00013,"v":-0.00022},{"m":1297.5,"r":-0.00006,"v":-0.00024},
{"m":1299,"r":-0.00008,"v":-0.00030},{"m":1300.5,"r":0.00007,"v":-0.00037},
{"m":1302,"r":0.00006,"v":-0.00019},{"m":1303.5,"r":0.00004,"v":-0.00016},
{"m":1305,"r":0.00018,"v":-0.00025},{"m":1306.5,"r":0.00021,"v":-0.00028},
{"m":1308,"r":0.00003,"v":-0.00016},{"m":1309.5,"r":-0.00002,"v":-0.00014},
{"m":1311,"r":-0.00006,"v":-0.00021},{"m":1312.5,"r":0.00005,"v":-0.00012},
{"m":1314,"r":0.00009,"v":-0.00014},{"m":1315.5,"r":-0.00009,"v":-0.00024},
{"m":1317,"r":0.00015,"v":-0.00020},{"m":1318.5,"r":0.00010,"v":-0.00015},
{"m":1320,"r":0.00001,"v":-0.00017},{"m":1321.5,"r":0.00001,"v":-0.00030},
{"m":1323,"r":-0.00010,"v":-0.00024},{"m":1324.5,"r":0.00013,"v":-0.00009},
{"m":1326,"r":0.00007,"v":-0.00013},{"m":1327.5,"r":-0.00004,"v":-0.00019},
{"m":1329,"r":0.00020,"v":-0.00019},{"m":1330.5,"r":0.00006,"v":-0.00031},
{"m":1332,"r":0.00004,"v":-0.00026},{"m":1333.5,"r":0.00002,"v":-0.00010},
{"m":1335,"r":-0.00002,"v":-0.00015},{"m":1336.5,"r":-0.00007,"v":-0.00030},
{"m":1338,"r":0.00012,"v":-0.00022},{"m":1339.5,"r":0.00011,"v":-0.00013},
{"m":1341,"r":0.00005,"v":-0.00018},{"m":1342.5,"r":0.00003,"v":-0.00025},
{"m":1344,"r":-0.00009,"v":-0.00028},{"m":1345.5,"r":-0.00001,"v":-0.00009},
{"m":1347,"r":0.00016,"v":-0.00016},{"m":1348.5,"r":0.00008,"v":-0.00022},
{"m":1350,"r":0.00002,"v":-0.00052},{"m":1351.5,"r":0.00009,"v":-0.00031},
{"m":1353,"r":0.00010,"v":-0.00021},{"m":1354.5,"r":-0.00004,"v":-0.00015},
{"m":1356,"r":-0.00004,"v":-0.00015},{"m":1357.5,"r":0.00005,"v":-0.00025},
{"m":1359,"r":0.00023,"v":-0.00024},{"m":1360.5,"r":0.00001,"v":-0.00011},
{"m":1362,"r":0.00006,"v":-0.00018},{"m":1363.5,"r":0.00015,"v":-0.00027},
{"m":1365,"r":-0.00008,"v":-0.00027},{"m":1366.5,"r":-0.00002,"v":-0.00022},
{"m":1368,"r":0.00014,"v":-0.00020},{"m":1369.5,"r":0.00007,"v":-0.00035},
{"m":1371,"r":0.00000,"v":-0.00025},{"m":1372.5,"r":-0.00006,"v":-0.00015},
{"m":1374,"r":0.00009,"v":-0.00016},{"m":1375.5,"r":0.00003,"v":-0.00023},
{"m":1377,"r":-0.00012,"v":-0.00029},{"m":1378.5,"r":0.00012,"v":-0.00012},
{"m":1380,"r":-0.00021,"v":-0.00017},{"m":1381.5,"r":0.00000,"v":-0.00016},
{"m":1383,"r":0.00017,"v":-0.00026},{"m":1384.5,"r":0.00008,"v":-0.00030},
{"m":1386,"r":0.00003,"v":-0.00020},{"m":1387.5,"r":-0.00003,"v":-0.00022},
{"m":1389,"r":-0.00007,"v":-0.00031},{"m":1390.5,"r":0.00019,"v":-0.00036},
{"m":1392,"r":0.00011,"v":-0.00022},{"m":1393.5,"r":0.00002,"v":-0.00012},
{"m":1395,"r":0.00005,"v":-0.00018},{"m":1396.5,"r":-0.00008,"v":-0.00026},
{"m":1398,"r":-0.00010,"v":-0.00027},{"m":1399.5,"r":0.00006,"v":-0.00032},
{"m":1401,"r":0.00019,"v":-0.00021},{"m":1402.5,"r":0.00010,"v":-0.00013},
{"m":1404,"r":0.00008,"v":-0.00015},{"m":1405.5,"r":-0.00001,"v":-0.00031},
{"m":1407,"r":0.00001,"v":-0.00024},{"m":1408.5,"r":0.00004,"v":-0.00015},
{"m":1410,"r":0.00013,"v":-0.00019},{"m":1411.5,"r":0.00011,"v":-0.00018},
{"m":1413,"r":-0.00015,"v":-0.00013},{"m":1414.5,"r":-0.00005,"v":-0.00009},
{"m":1416,"r":0.00006,"v":-0.00022},{"m":1417.5,"r":0.00003,"v":-0.00026},
{"m":1419,"r":0.00022,"v":-0.00018},{"m":1420.5,"r":0.00007,"v":-0.00033},
{"m":1422,"r":-0.00005,"v":-0.00028},{"m":1423.5,"r":-0.00002,"v":-0.00022},
{"m":1425,"r":0.00010,"v":-0.00021},{"m":1426.5,"r":0.00014,"v":-0.00032},
{"m":1428,"r":0.00039,"v":-0.00033},{"m":1429.5,"r":0.00000,"v":-0.00019},
{"m":1431,"r":-0.00009,"v":-0.00024},{"m":1432.5,"r":-0.00007,"v":-0.00027},
{"m":1434,"r":-0.00025,"v":-0.00022},{"m":1435.5,"r":0.00009,"v":-0.00020},
{"m":1437,"r":0.00014,"v":-0.00046},{"m":1438.5,"r":0.00005,"v":-0.00050},
{"m":1440,"r":0.00004,"v":-0.00030},{"m":1441.5,"r":-0.00003,"v":-0.00022},
{"m":1443,"r":-0.00006,"v":-0.00025},{"m":1444.5,"r":0.00017,"v":-0.00037},
{"m":1446,"r":0.00018,"v":-0.00034},{"m":1447.5,"r":0.00001,"v":-0.00016},
{"m":1449,"r":0.00002,"v":-0.00021},{"m":1450.5,"r":0.00006,"v":-0.00019},
{"m":1452,"r":-0.00011,"v":-0.00028},{"m":1453.5,"r":-0.00004,"v":-0.00030},
{"m":1455,"r":0.00009,"v":-0.00018},{"m":1456.5,"r":0.00010,"v":-0.00018},
{"m":1458,"r":0.00015,"v":-0.00026},{"m":1459.5,"r":0.00002,"v":-0.00038},
{"m":1461,"r":-0.00003,"v":-0.00031},{"m":1462.5,"r":-0.00009,"v":-0.00018},
{"m":1464,"r":0.00007,"v":-0.00020},{"m":1465.5,"r":0.00013,"v":-0.00027},
{"m":1467,"r":0.00021,"v":-0.00027},{"m":1468.5,"r":0.00003,"v":-0.00024},
{"m":1470,"r":0.00000,"v":-0.00016},{"m":1471.5,"r":0.00007,"v":-0.00015},
{"m":1473,"r":0.00029,"v":-0.00024},{"m":1474.5,"r":-0.00001,"v":-0.00038},
{"m":1476,"r":-0.00008,"v":-0.00029},{"m":1477.5,"r":0.00004,"v":-0.00017},
{"m":1479,"r":0.00012,"v":-0.00019},{"m":1480.5,"r":0.00012,"v":-0.00024},
{"m":1482,"r":0.00005,"v":-0.00025},{"m":1483.5,"r":-0.00006,"v":-0.00012},
{"m":1485,"r":-0.00004,"v":-0.00017},{"m":1486.5,"r":0.00008,"v":-0.00026},
{"m":1488,"r":0.00016,"v":-0.00023},{"m":1489.5,"r":0.00001,"v":-0.00037},
{"m":1491,"r":0.00003,"v":-0.00030},{"m":1492.5,"r":-0.00002,"v":-0.00023},
{"m":1494,"r":-0.00007,"v":-0.00021},{"m":1495.5,"r":0.00010,"v":-0.00029},
{"m":1497,"r":0.00010,"v":-0.00026},{"m":1498.5,"r":0.00005,"v":-0.00020},
{"m":1500,"r":0.00037,"v":-0.00033}
]},
"layer": [
  {
    "data": {"values": [{}]},
    "mark": {"type": "rule", "stroke": "#a9a9a9", "strokeDash": [7,4], "strokeWidth": 1},
    "encoding": {
      "y": {"datum": 0, "type": "quantitative", "title": null, "scale": {"domain": [-0.002143, 0.001183], "nice": false, "zero": false}}
    }
  },
  {
    "mark": {"type": "point", "filled": true, "size": 225, "opacity": 1, "strokeWidth": 0},
    "encoding": {
      "x": {"field": "m", "type": "quantitative", "title": null,
        "scale": {"domain": [-60, 1560], "nice": false, "zero": false},
        "axis": {"values": [0,60,120,180,240,300,360,420,480,540,600,660,720,780,840,900,960,1020,1080,1140,1200,1260,1320,1380,1440,1500,500,1000],
          "tickCount": 200,
          "labelExpr": "datum.value == 0 ? 'Feb 26 15:00' : ((datum.value % 180 == 0 && datum.value <= 1440) ? 'Feb 29 ' + ((datum.value / 60 - 1) < 10 ? '0' : '') + (datum.value / 60 - 1) + ':00' : '')",
          "labelFontSize": 15.5, "labelPadding": 12,
          "gridOpacity": {"condition": {"test": "datum.value % 500 == 0", "value": 1}, "value": 0},
          "tickOpacity": {"condition": {"test": "datum.value == 500 || datum.value == 1000", "value": 0}, "value": 1}}},
      "y": {"field": "r", "type": "quantitative", "title": null,
        "scale": {"domain": [-0.002143, 0.001183], "nice": false, "zero": false},
        "axis": {"values": [-0.002, -0.0015, -0.001, -0.0005, 0, 0.0005, 0.001],
          "tickCount": 200,
          "labelExpr": "abs(datum.value * 1000 - round(datum.value * 1000)) > 0.01 ? '' : (datum.value < 0 ? '-' + format(-datum.value, '.4f') : format(datum.value, '.4f'))",
          "labelFontSize": 13, "labelAngle": 270, "labelAlign": "center", "labelBaseline": "bottom", "labelPadding": 10}},
      "color": {"datum": "returns", "type": "nominal",
        "scale": {"domain": ["returns", "return < VaR", "VaR"], "range": ["#d3d3d3", "#ff0000", "#000000"]},
        "legend": {"title": null, "orient": "none", "legendX": 34, "legendY": 18, "padding": 0, "rowPadding": 11, "labelOffset": 56,
          "labelFontSize": 12, "labelFont": "Liberation Sans", "labelColor": "#000000"}},
      "shape": {"datum": "returns", "type": "nominal",
        "scale": {"domain": ["returns", "return < VaR", "VaR"], "range": ["M0,-0.5L0.5,0L0,0.5L-0.5,0Z", "M-1,-0.1H-0.1V-1H0.1V-0.1H1V0.1H0.1V1H-0.1V0.1H-1Z", "M-6.2,-0.25H6.2V0.25H-6.2Z"]},
        "legend": {"title": null, "orient": "none", "legendX": 34, "legendY": 18, "padding": 0, "rowPadding": 11, "labelOffset": 56,
          "labelFontSize": 12, "labelFont": "Liberation Sans", "labelColor": "#000000"}}
    }
  },
  {
    "mark": {"type": "line", "strokeWidth": 1},
    "encoding": {
      "x": {"field": "m", "type": "quantitative", "title": null, "scale": {"domain": [-60, 1560], "nice": false, "zero": false}},
      "y": {"field": "v", "type": "quantitative", "title": null, "scale": {"domain": [-0.002143, 0.001183], "nice": false, "zero": false}},
      "color": {"datum": "VaR", "type": "nominal"}
    }
  },
  {
    "transform": [{"filter": "datum.r < datum.v"}],
    "mark": {"type": "point", "filled": true, "size": 196, "opacity": 1, "strokeWidth": 0},
    "encoding": {
      "x": {"field": "m", "type": "quantitative", "title": null, "scale": {"domain": [-60, 1560], "nice": false, "zero": false}},
      "y": {"field": "r", "type": "quantitative", "title": null, "scale": {"domain": [-0.002143, 0.001183], "nice": false, "zero": false}},
      "color": {"datum": "return < VaR", "type": "nominal"},
      "shape": {"datum": "return < VaR", "type": "nominal"}
    }
  }
]
}
